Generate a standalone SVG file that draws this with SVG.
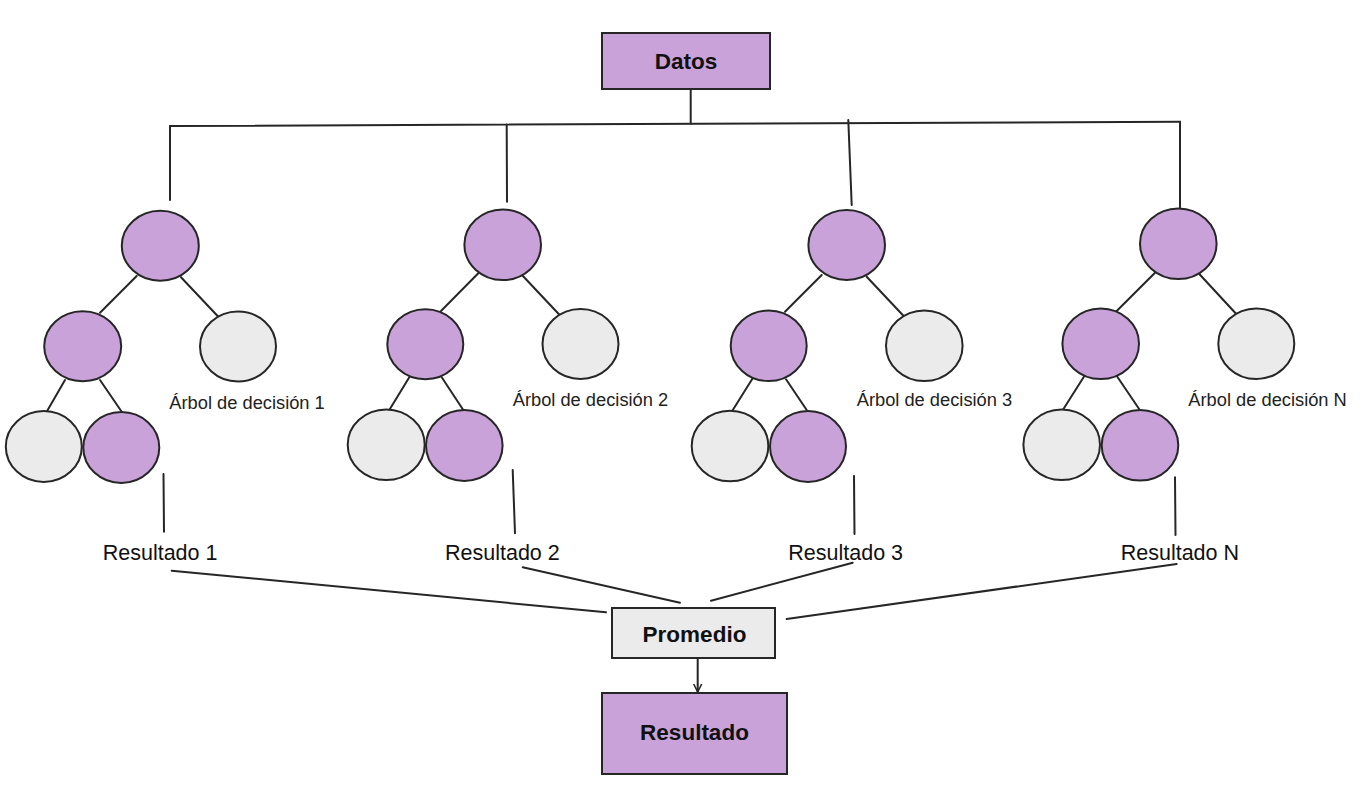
<svg xmlns="http://www.w3.org/2000/svg" width="1368" height="792" viewBox="0 0 1368 792">
<defs>
<style>
.p{fill:#C8A2D8;stroke:#262626;stroke-width:2}
.g{fill:#EBEBEB;stroke:#262626;stroke-width:2}
.ln{fill:none;stroke:#262626;stroke-width:2;stroke-linecap:round}
.lbl{font-family:"Liberation Sans",Arial,sans-serif;font-size:18.3px;fill:#222}
.res{font-family:"Liberation Sans",Arial,sans-serif;font-size:21.5px;fill:#111}
.bt{font-family:"Liberation Sans",Arial,sans-serif;font-size:22.5px;font-weight:bold;fill:#111;text-anchor:middle}
</style>
<marker id="arr" markerWidth="12" markerHeight="12" refX="9" refY="5" orient="auto" markerUnits="userSpaceOnUse">
<path d="M1,1 L9,5 L1,9" fill="none" stroke="#262626" stroke-width="1.6"/>
</marker>
</defs>
<rect width="1368" height="792" fill="#fff"/>

<g id="connectors">
<line class="ln" x1="690.7" y1="89" x2="690.7" y2="123.5"/>
<line class="ln" x1="170" y1="126" x2="1180" y2="121.7"/>
<line class="ln" x1="170" y1="126" x2="170" y2="200"/>
<line class="ln" x1="506.7" y1="124.5" x2="507" y2="201.7"/>
<line class="ln" x1="848.3" y1="120" x2="851.7" y2="205"/>
<line class="ln" x1="1180" y1="121.7" x2="1180" y2="208.3"/>

<line class="ln" x1="136.7" y1="276" x2="100" y2="312.7"/>
<line class="ln" x1="181" y1="277.3" x2="218.3" y2="316.7"/>
<line class="ln" x1="65" y1="380" x2="46.7" y2="411.7"/>
<line class="ln" x1="100" y1="380" x2="121.7" y2="411.7"/>
<line class="ln" x1="163.5" y1="474" x2="164" y2="531.7"/>

<line class="ln" x1="478.3" y1="273.3" x2="441" y2="311"/>
<line class="ln" x1="522.7" y1="275.7" x2="562.7" y2="318.3"/>
<line class="ln" x1="409.3" y1="377.3" x2="389.3" y2="410"/>
<line class="ln" x1="441.7" y1="377.3" x2="463.3" y2="410"/>
<line class="ln" x1="512.7" y1="470" x2="515" y2="533.3"/>

<line class="ln" x1="821.7" y1="275" x2="785" y2="311.7"/>
<line class="ln" x1="866.7" y1="276.7" x2="906.7" y2="319.3"/>
<line class="ln" x1="752.7" y1="378.3" x2="731.7" y2="411.7"/>
<line class="ln" x1="786" y1="379.3" x2="806.7" y2="410"/>
<line class="ln" x1="854" y1="476" x2="854.5" y2="534"/>

<line class="ln" x1="1155" y1="272.7" x2="1116.7" y2="311"/>
<line class="ln" x1="1199.3" y1="274" x2="1239.3" y2="317.3"/>
<line class="ln" x1="1085" y1="375" x2="1063.3" y2="409.3"/>
<line class="ln" x1="1117.3" y1="376.7" x2="1139.3" y2="409.3"/>
<line class="ln" x1="1175" y1="477.3" x2="1175.5" y2="535"/>

<line class="ln" x1="171.7" y1="570.7" x2="606" y2="612.3"/>
<line class="ln" x1="522.7" y1="567.3" x2="680" y2="602.7"/>
<line class="ln" x1="852.7" y1="562.7" x2="711" y2="600.7"/>
<line class="ln" x1="1176.7" y1="564" x2="786.7" y2="619"/>

<line class="ln" x1="697.7" y1="658" x2="697.7" y2="692" marker-end="url(#arr)"/>
</g>

<g id="datos">
<rect class="p" x="602" y="33" width="168" height="56"/>
<text class="bt" x="686" y="69">Datos</text>
</g>

<g id="arbol1">
<ellipse class="p" cx="160.3" cy="245.7" rx="38.5" ry="35"/>
<ellipse class="p" cx="82.7" cy="346.2" rx="38.5" ry="35"/>
<ellipse class="g" cx="238" cy="346.5" rx="38" ry="35"/>
<ellipse class="g" cx="43.8" cy="446.5" rx="38" ry="35.5"/>
<ellipse class="p" cx="121.3" cy="447.5" rx="38" ry="35.5"/>
<text class="lbl" x="169.3" y="409.3">Árbol de decisión 1</text>
</g>

<g id="arbol2">
<ellipse class="p" cx="502.7" cy="244.7" rx="38.3" ry="35.3"/>
<ellipse class="p" cx="425.3" cy="344.2" rx="38" ry="35"/>
<ellipse class="g" cx="580.5" cy="344" rx="38" ry="35"/>
<ellipse class="g" cx="386.2" cy="444.7" rx="38.5" ry="35.3"/>
<ellipse class="p" cx="464.3" cy="445.5" rx="38.3" ry="35.5"/>
<text class="lbl" x="512.7" y="406">Árbol de decisión 2</text>
</g>

<g id="arbol3">
<ellipse class="p" cx="846.7" cy="245" rx="38.3" ry="35"/>
<ellipse class="p" cx="768.7" cy="345.7" rx="38" ry="35.3"/>
<ellipse class="g" cx="924.3" cy="345.7" rx="38.3" ry="35.3"/>
<ellipse class="g" cx="730" cy="446" rx="38.3" ry="35.3"/>
<ellipse class="p" cx="808" cy="446.5" rx="38" ry="35.5"/>
<text class="lbl" x="856.7" y="406">Árbol de decisión 3</text>
</g>

<g id="arbolN">
<ellipse class="p" cx="1178.3" cy="243.7" rx="38.3" ry="35.3"/>
<ellipse class="p" cx="1100.7" cy="343.7" rx="38.3" ry="35.3"/>
<ellipse class="g" cx="1256.3" cy="343.7" rx="38" ry="35.3"/>
<ellipse class="g" cx="1061.7" cy="444.7" rx="38.3" ry="35.3"/>
<ellipse class="p" cx="1140" cy="445.3" rx="38.3" ry="35.3"/>
<text class="lbl" x="1188.3" y="406">Árbol de decisión N</text>
</g>

<g id="resultados">
<text class="res" x="102.7" y="560">Resultado 1</text>
<text class="res" x="445" y="560">Resultado 2</text>
<text class="res" x="788.3" y="560">Resultado 3</text>
<text class="res" x="1120.7" y="560">Resultado N</text>
</g>

<g id="promedio">
<rect x="612" y="608" width="163" height="50" fill="#EBEBEB" stroke="#262626" stroke-width="2"/>
<text class="bt" x="694.5" y="641.7">Promedio</text>
</g>

<g id="resultado">
<rect class="p" x="602" y="693" width="185" height="81"/>
<text class="bt" x="694.5" y="740">Resultado</text>
</g>
</svg>
